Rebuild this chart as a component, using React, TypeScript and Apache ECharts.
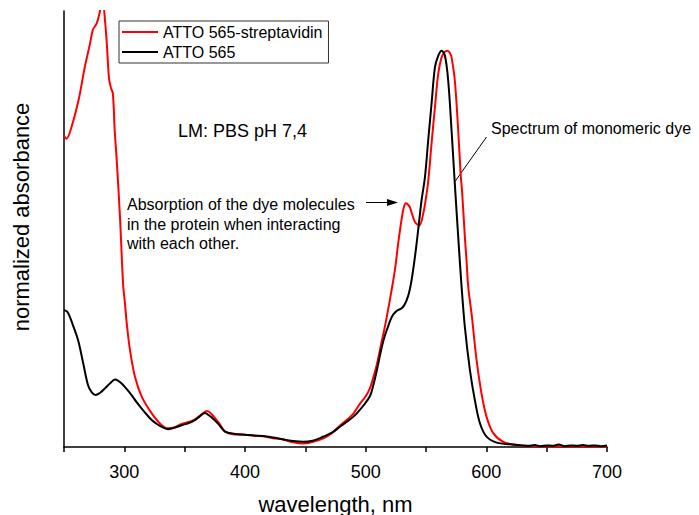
import React, { useEffect, useRef } from "react";
import * as echarts from "echarts";

// ATTO 565-streptavidin (red)
const redWavelength = [
  250, 252, 256, 262, 267, 271.5, 274, 277, 279.5, 280.5, 282.5, 284, 285.5, 287.3, 289, 290.5, 292, 293.7,
  296.4, 299, 300.5, 302, 304.7, 308.8, 314.4, 322.7, 331, 336.4, 342, 347.5, 353, 358.5, 363, 368.5, 372,
  378.5, 383.5, 390, 400, 408, 415, 423, 430, 440, 448, 455, 465, 472, 479, 485, 490, 495, 500, 503.5, 506,
  509, 513.2, 516, 520, 524.2, 527, 529.8, 531.5, 533.3, 535, 536.6, 540.8, 544.4, 547.7, 550.5, 552, 554.6,
  557.4, 560.1, 562.9, 565.5, 567.9, 570, 571.2, 573.9, 576.7, 578.7, 580, 582.2, 583.6, 585, 588, 591.9, 596,
  600.2, 605.7, 614, 625, 640, 660, 680, 700,
];
const redAbsorbance = [
  0.786, 0.778, 0.805, 0.874, 0.955, 1.017, 1.053, 1.068, 1.095, 1.108, 1.108, 1.075, 1.017, 0.93, 0.905, 0.892,
  0.8, 0.723, 0.58, 0.41, 0.363, 0.312, 0.244, 0.177, 0.127, 0.085, 0.055, 0.047, 0.05, 0.058, 0.063, 0.07,
  0.08, 0.091, 0.084, 0.06, 0.039, 0.032, 0.031, 0.028, 0.027, 0.022, 0.02, 0.012, 0.009, 0.012, 0.022, 0.035,
  0.055, 0.07, 0.085, 0.108, 0.128, 0.148, 0.172, 0.205, 0.265, 0.305, 0.37, 0.446, 0.515, 0.575, 0.603, 0.615,
  0.612, 0.605, 0.568, 0.559, 0.589, 0.639, 0.675, 0.766, 0.857, 0.941, 0.983, 0.997, 1.0, 0.993, 0.983, 0.924,
  0.798, 0.689, 0.64, 0.53, 0.47, 0.404, 0.33, 0.219, 0.135, 0.076, 0.035, 0.013, 0.005, 0.002, 0.001, 0.001,
  0.001,
];

// ATTO 565 (black)
const blackWavelength = [
  250, 252, 253.6, 257.7, 261.8, 266, 270, 273, 276.2, 280, 284, 288, 292.3, 295, 297.8, 302, 306, 310, 314.4,
  318.5, 322.7, 327, 331, 336.4, 342, 347.5, 353, 358.5, 362, 366.8, 370, 374, 378, 383.4, 391.7, 400, 408,
  415, 423.4, 430, 440, 448.3, 456, 464.8, 472, 478.7, 484, 489.7, 495, 498, 503.5, 506, 509, 513.2, 516, 518.7,
  520.5, 522.8, 526, 529.8, 532, 533.9, 536, 538, 540.8, 543.5, 546.3, 549.1, 551.8, 554.6, 557.4, 560.1, 562.9,
  565.7, 568.4, 571.2, 573.7, 576.7, 579.5, 582.2, 586.4, 590.5, 594.7, 600.2, 608.5, 619.5, 630, 635, 640, 645,
  650, 655, 660, 665, 670, 675, 680, 685, 690, 695, 700,
];
const blackAbsorbance = [
  0.345, 0.343, 0.337, 0.305, 0.268, 0.21, 0.155, 0.138, 0.131, 0.137, 0.148, 0.16, 0.17, 0.167, 0.16, 0.146,
  0.131, 0.114, 0.097, 0.082, 0.068, 0.058, 0.051, 0.045, 0.049, 0.055, 0.06, 0.068, 0.076, 0.086, 0.08, 0.07,
  0.058, 0.039, 0.033, 0.031, 0.029, 0.028, 0.024, 0.02, 0.015, 0.013, 0.016, 0.026, 0.036, 0.051, 0.063, 0.076,
  0.093, 0.104, 0.128, 0.152, 0.19, 0.25, 0.282, 0.305, 0.32, 0.334, 0.344, 0.35, 0.358, 0.37, 0.39, 0.42,
  0.479, 0.547, 0.622, 0.68, 0.773, 0.866, 0.958, 0.987, 1.0, 0.987, 0.924, 0.798, 0.673, 0.53, 0.404, 0.303,
  0.194, 0.118, 0.06, 0.026, 0.011, 0.007, 0.004, 0.003, 0.005, 0.002, 0.004, 0.003, 0.006, 0.002, 0.004, 0.003,
  0.005, 0.003, 0.004, 0.002, 0.004,
];

const xTickLabels = [300, 400, 500, 600, 700];
const seriesNames = ["ATTO 565-streptavidin", "ATTO 565"];
const annotationLines = [
  "Absorption of the dye molecules",
  "in the protein when interacting",
  "with each other.",
];
const FONT = '"Liberation Sans", Arial, sans-serif';

export default function App() {
  const ref = useRef<HTMLDivElement>(null);
  useEffect(() => {
    if (!ref.current) return;
    const chart = echarts.init(ref.current, undefined, { renderer: "svg" });
    const redData = redWavelength.map((w, i) => [w, redAbsorbance[i]]);
    const blackData = blackWavelength.map((w, i) => [w, blackAbsorbance[i]]);

    const annotationTexts = annotationLines.map((t, i) => ({
      type: "text",
      x: 127,
      y: 204.5 + i * 19.5,
      silent: true,
      style: { text: t, fontSize: 16, fontFamily: FONT, fill: "#000", align: "left", verticalAlign: "middle" },
    }));

    chart.setOption({
      animation: false,
      backgroundColor: "#fff",
      grid: { left: 64, right: 92, top: 11, bottom: 68, containLabel: false, outerBoundsMode: "none" },
      legend: {
        data: seriesNames,
        orient: "vertical",
        left: 119,
        top: 21,
        padding: [3, 6, 3, 3],
        itemGap: 4,
        itemWidth: 36,
        itemHeight: 2,
        icon: "rect",
        borderColor: "#333",
        borderWidth: 1,
        textStyle: { fontSize: 16, fontFamily: FONT, color: "#000" },
      },
      xAxis: {
        type: "value",
        min: 250,
        max: 700,
        interval: 50,
        name: "wavelength, nm",
        nameLocation: "middle",
        nameGap: 46,
        nameTextStyle: { fontSize: 22, fontFamily: FONT, color: "#000" },
        axisLine: { show: true, onZero: false, lineStyle: { color: "#000", width: 1.5 } },
        axisTick: { show: true, inside: false, length: 5, lineStyle: { color: "#000", width: 1.5 } },
        axisLabel: {
          fontSize: 18,
          fontFamily: FONT,
          color: "#000",
          margin: 16,
          formatter: (v: number) => (xTickLabels.includes(v) ? String(v) : ""),
        },
        splitLine: { show: false },
      },
      yAxis: {
        type: "value",
        min: 0,
        max: 1.1,
        name: "normalized absorbance",
        nameLocation: "middle",
        nameGap: 32,
        nameTextStyle: { fontSize: 22, fontFamily: FONT, color: "#000", padding: [0, 0, 0, 24] },
        axisLine: { show: true, onZero: false, lineStyle: { color: "#000", width: 1.5 } },
        axisTick: { show: false },
        axisLabel: { show: false },
        splitLine: { show: false },
      },
      series: [
        {
          name: seriesNames[0],
          type: "line",
          data: redData,
          showSymbol: false,
          symbol: "none",
          smooth: 0.35,
          clip: true,
          lineStyle: { color: "#ff0000", width: 2 },
          itemStyle: { color: "#ff0000" },
        },
        {
          name: seriesNames[1],
          type: "line",
          data: blackData,
          showSymbol: false,
          symbol: "none",
          smooth: 0.35,
          clip: true,
          lineStyle: { color: "#000000", width: 2 },
          itemStyle: { color: "#000000" },
        },
      ],
      graphic: [
        {
          type: "text",
          x: 178,
          y: 130.5,
          silent: true,
          style: { text: "LM: PBS pH 7,4", fontSize: 18, fontFamily: FONT, fill: "#000", align: "left", verticalAlign: "middle" },
        },
        ...annotationTexts,
        {
          type: "line",
          silent: true,
          shape: { x1: 366, y1: 202.5, x2: 390, y2: 202.5 },
          style: { stroke: "#000", lineWidth: 1 },
        },
        {
          type: "polygon",
          silent: true,
          shape: { points: [[398, 202.5], [387, 199], [387, 206]] },
          style: { fill: "#000" },
        },
        {
          type: "text",
          x: 491,
          y: 128.5,
          silent: true,
          style: { text: "Spectrum of monomeric dye", fontSize: 16, fontFamily: FONT, fill: "#000", align: "left", verticalAlign: "middle" },
        },
        {
          type: "line",
          silent: true,
          shape: { x1: 486.5, y1: 137, x2: 455, y2: 181.5 },
          style: { stroke: "#000", lineWidth: 1 },
        },
      ],
    });
    return () => chart.dispose();
  }, []);
  return (
    <div
      ref={ref}
      style={{ position: "absolute", left: 0, top: 0, width: 699, height: 515, background: "#fff" }}
    />
  );
}
